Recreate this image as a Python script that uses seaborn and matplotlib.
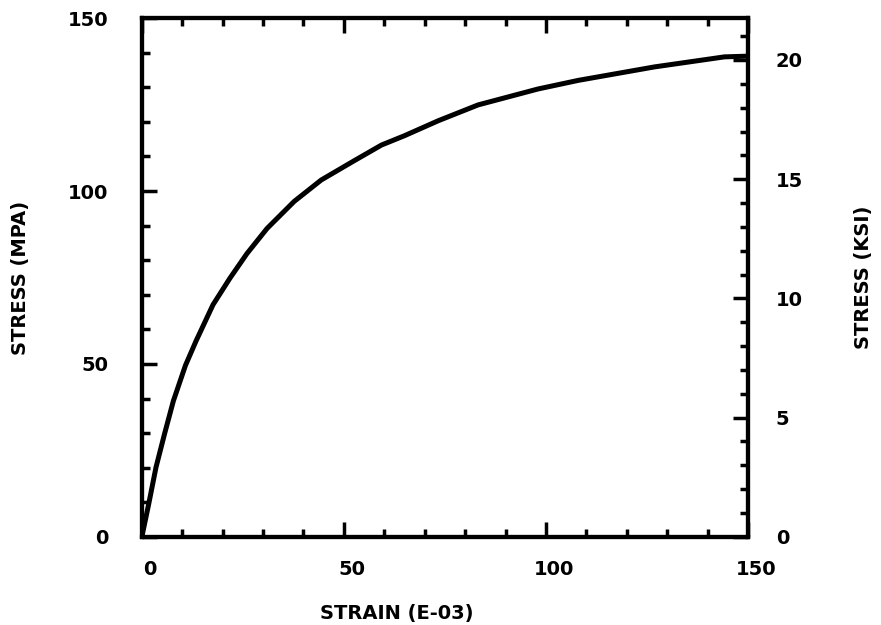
import matplotlib
matplotlib.use("Agg")
import matplotlib.pyplot as plt
import matplotlib.transforms as mtransforms
from matplotlib.ticker import MultipleLocator
import numpy as np
import pandas as pd
import seaborn as sns

# data
strain = [0, 1.7, 3.5, 5.6, 7.8, 10.8, 13.4, 17.6, 21.8, 26, 31, 37.7, 44.4,
          52.6, 59.3, 65, 73.3, 83.2, 98, 108, 126.9, 144.2, 150]
stress_mpa = [0, 9.5, 20.1, 29.7, 39.3, 49.6, 56.6, 67.1, 74.8, 81.9, 89.2, 97,
              103.2, 108.8, 113.3, 116.0, 120.3, 124.9, 129.5, 132, 135.9, 138.8, 139]
x_ticks = [0, 50, 100, 150]
y_ticks = [0, 50, 100, 150]
ksi_ticks = [0, 5, 10, 15, 20]
MPA_PER_KSI = 6.895

sns.set_style("white")
plt.rcParams['font.family'] = ['DejaVu Sans']
plt.rcParams['font.weight'] = 'bold'
plt.rcParams['text.color'] = 'black'
plt.rcParams['axes.labelcolor'] = 'black'
plt.rcParams['xtick.color'] = 'black'
plt.rcParams['ytick.color'] = 'black'

FS = 14

df = pd.DataFrame({"strain": strain, "stress": stress_mpa})

fig = plt.figure(figsize=(8.81, 6.25), dpi=100)
ax = fig.add_axes([0.161, 0.141, 0.688, 0.830])

sns.lineplot(data=df, x="strain", y="stress", ax=ax, color="black",
             linewidth=3.6, sort=False)

ax.set_xlim(0, 150)
ax.set_ylim(0, 150)
ax.set_xticks(x_ticks)
ax.set_yticks(y_ticks)
ax.xaxis.set_minor_locator(MultipleLocator(10))
ax.yaxis.set_minor_locator(MultipleLocator(10))
ax.set_xticklabels([str(v) for v in x_ticks], fontsize=FS, fontweight='bold')
ax.set_yticklabels([str(v) for v in y_ticks], fontsize=FS, fontweight='bold')
ax.tick_params(axis='both', which='major', direction='in', length=11, width=2.5,
               color='black', labelcolor='black')
ax.tick_params(axis='both', which='minor', direction='in', length=6, width=2.5,
               color='black')
ax.tick_params(axis='x', which='both', top=True, bottom=True)
ax.tick_params(axis='x', which='major', pad=17)
ax.tick_params(axis='y', which='both', left=True, right=False)
ax.tick_params(axis='y', which='major', pad=24)

# shift x tick labels slightly right like the plotter output
offset = mtransforms.ScaledTranslation(8 / 100, 0, fig.dpi_scale_trans)
for lbl in ax.get_xticklabels():
    lbl.set_transform(lbl.get_transform() + offset)

for sp in ax.spines.values():
    sp.set_linewidth(3)
    sp.set_color('black')

ax.set_xlabel("STRAIN (E-03)", fontsize=FS, fontweight='bold', color='black')
ax.xaxis.set_label_coords(0.42, -0.13)
ax.set_ylabel("STRESS (MPA)", fontsize=FS, fontweight='bold', color='black')
ax.yaxis.set_label_coords(-0.185, 0.5)

ax2 = ax.twinx()
ax2.set_ylim(0, 150 / MPA_PER_KSI)
ax2.set_yticks(ksi_ticks)
ax2.yaxis.set_minor_locator(MultipleLocator(1))
ax2.set_yticklabels([str(v) for v in ksi_ticks], fontsize=FS, fontweight='bold')
ax2.tick_params(axis='y', which='major', direction='in', length=11, width=2.5,
                pad=20, color='black', labelcolor='black')
ax2.tick_params(axis='y', which='minor', direction='in', length=6, width=2.5,
                color='black')
for sp in ax2.spines.values():
    sp.set_linewidth(3)
    sp.set_color('black')
ax2.set_ylabel("STRESS (KSI)", fontsize=FS, fontweight='bold', rotation=90,
               color='black')
ax2.yaxis.set_label_coords(1.175, 0.5)

fig.savefig("out.png", dpi=100)
